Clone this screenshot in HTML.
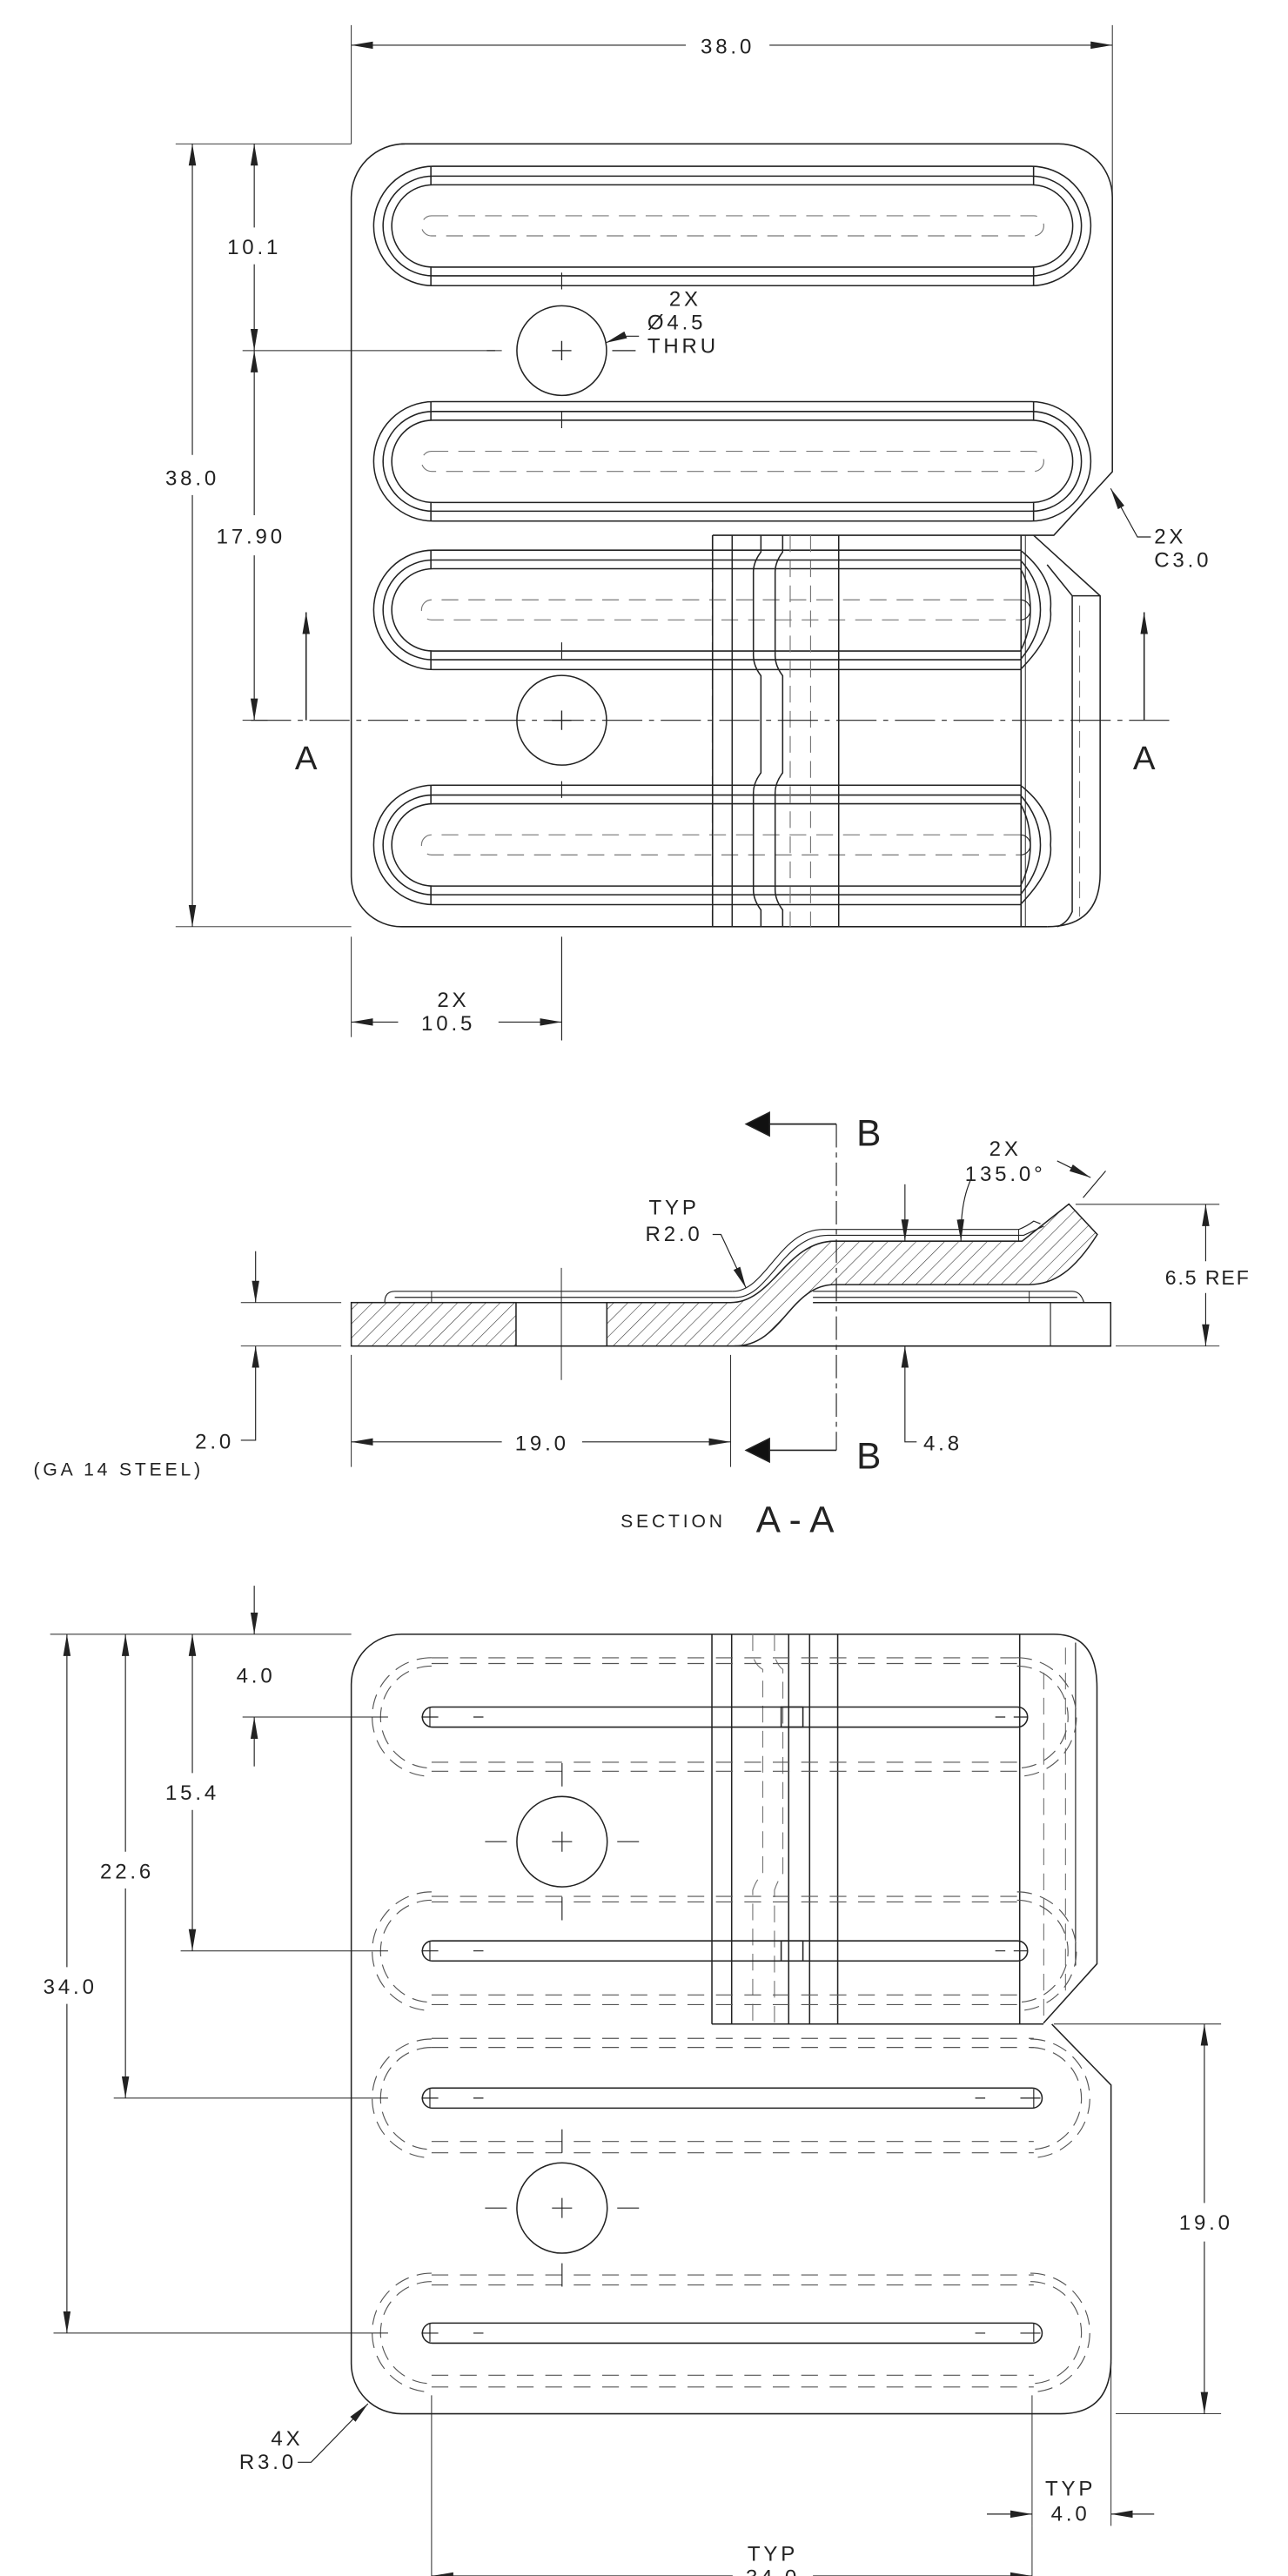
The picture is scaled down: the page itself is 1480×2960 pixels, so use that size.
<!DOCTYPE html>
<html><head><meta charset="utf-8"><style>
html,body{margin:0;padding:0;background:#fff}
svg{display:block}
text{font-family:"Liberation Sans",sans-serif;font-size:12.5px;fill:#222;letter-spacing:2px}
</style></head><body>
<svg width="1480" height="2960" viewBox="0 0 770 1540" xmlns="http://www.w3.org/2000/svg">
<defs>
<marker id="ar" markerUnits="userSpaceOnUse" markerWidth="14" markerHeight="8" refX="13" refY="3" orient="auto-start-reverse" viewBox="0 0 14 6"><path d="M0,0.8 L13,3 L0,5.2 Z" fill="#222"/></marker>
<pattern id="hatch" patternUnits="userSpaceOnUse" width="6" height="6" patternTransform="rotate(45)"><line x1="0" y1="0" x2="0" y2="6" stroke="#333" stroke-width="0.6"/></pattern>
</defs>
<g fill="none" stroke="#222" stroke-width="0.8">

<!-- ============ TOP VIEW ============ -->
<line x1="210" y1="15" x2="210" y2="86" stroke-width="0.5"/>
<line x1="665" y1="15" x2="665" y2="281" stroke-width="0.5"/>
<line x1="210" y1="27" x2="410" y2="27" marker-start="url(#ar)" stroke-width="0.6"/>
<line x1="460" y1="27" x2="665" y2="27" marker-end="url(#ar)" stroke-width="0.6"/>
<path d="M240,86 L633,86 A32,32 0 0 1 665,118 L665,282 L630,320 L426,320"/>
<path d="M426,320 L426,554 M665,118"/>
<path d="M210,118 A32,32 0 0 1 242,86 M210,118 L210,524 A30,30 0 0 0 240,554 L626,554"/>
<g>
 <rect x="223.4" y="99.4" width="428.7" height="71.4" rx="35.7"/>
 <rect x="229" y="105.3" width="417.5" height="59.6" rx="29.8"/>
 <rect x="234.2" y="110.5" width="407.1" height="49.2" rx="24.6"/>
 <line x1="257.6" y1="99.4" x2="257.6" y2="110.5"/><line x1="617.9" y1="99.4" x2="617.9" y2="110.5"/>
 <line x1="257.6" y1="159.7" x2="257.6" y2="170.8"/><line x1="617.9" y1="159.7" x2="617.9" y2="170.8"/>
 <rect x="252" y="129" width="372" height="12" rx="6" stroke="#777" stroke-dasharray="10 6" stroke-width="0.6"/>
 <rect x="223.4" y="240.1" width="428.7" height="71.4" rx="35.7"/>
 <rect x="229" y="246" width="417.5" height="59.6" rx="29.8"/>
 <rect x="234.2" y="251.2" width="407.1" height="49.2" rx="24.6"/>
 <line x1="257.6" y1="240.1" x2="257.6" y2="251.2"/><line x1="617.9" y1="240.1" x2="617.9" y2="251.2"/>
 <line x1="257.6" y1="300.4" x2="257.6" y2="311.5"/><line x1="617.9" y1="300.4" x2="617.9" y2="311.5"/>
 <rect x="252" y="269.8" width="372" height="12" rx="6" stroke="#777" stroke-dasharray="10 6" stroke-width="0.6"/>
 <path d="M610,328.9 L259.1,328.9 A35.7,35.7 0 0 0 259.1,400.3 L610,400.3 Q630,380 628,364.6 Q630,345 610,328.9"/>
 <path d="M610,334.8 L258.8,334.8 A29.8,29.8 0 0 0 258.8,394.4 L610,394.4 Q622,380 622,364.6 Q622,348 610,334.8"/>
 <path d="M610,340 L258.8,340 A24.6,24.6 0 0 0 258.8,389.2 L610,389.2 Q616,378 616,364.6 Q616,350 610,340"/>
 <line x1="257.6" y1="328.9" x2="257.6" y2="340"/><line x1="257.6" y1="389.2" x2="257.6" y2="400.3"/>
 <path d="M610,358.6 L258,358.6 A6,6 0 0 0 258,370.6 L610,370.6" stroke="#777" stroke-dasharray="10 6" stroke-width="0.6"/>
 <path d="M610,358.6 A6,6 0 0 1 610,370.6" stroke-width="0.6"/>
 <path d="M610,469.4 L259.1,469.4 A35.7,35.7 0 0 0 259.1,540.8 L610,540.8 Q630,520 628,505.1 Q630,485 610,469.4"/>
 <path d="M610,475.3 L258.8,475.3 A29.8,29.8 0 0 0 258.8,534.9 L610,534.9 Q622,520 622,505.1 Q622,489 610,475.3"/>
 <path d="M610,480.5 L258.8,480.5 A24.6,24.6 0 0 0 258.8,529.7 L610,529.7 Q616,518 616,505.1 Q616,491 610,480.5"/>
 <line x1="257.6" y1="469.4" x2="257.6" y2="480.5"/><line x1="257.6" y1="529.7" x2="257.6" y2="540.8"/>
 <path d="M610,499.1 L258,499.1 A6,6 0 0 0 258,511.1 L610,511.1" stroke="#777" stroke-dasharray="10 6" stroke-width="0.6"/>
 <path d="M610,499.1 A6,6 0 0 1 610,511.1" stroke-width="0.6"/>
</g>
<line x1="437.7" y1="320" x2="437.7" y2="554"/>
<path d="M454.9,320 L454.9,330 Q450.4,336 450.4,342 L450.4,392 Q450.4,398 454.9,404 L454.9,462 Q450.4,468 450.4,474 L450.4,532 Q450.4,538 454.9,544 L454.9,554"/>
<path d="M467.9,320 L467.9,330 Q463.4,336 463.4,342 L463.4,392 Q463.4,398 467.9,404 L467.9,462 Q463.4,468 463.4,474 L463.4,532 Q463.4,538 467.9,544 L467.9,554"/>
<line x1="472.4" y1="320" x2="472.4" y2="554" stroke="#777" stroke-dasharray="10 5" stroke-width="0.6"/>
<line x1="484.6" y1="320" x2="484.6" y2="554" stroke="#777" stroke-dasharray="10 5" stroke-width="0.6"/>
<line x1="501.4" y1="320" x2="501.4" y2="554"/>
<line x1="610.4" y1="320" x2="610.4" y2="554"/>
<line x1="425.8" y1="320" x2="425.8" y2="554" stroke-dasharray="12 4" stroke-width="0.5"/>
<path d="M617.9,320 L657.7,356.2 L657.7,521.8 Q657.7,554 626,554"/>
<path d="M626,337.6 L641,356.2 L657.7,356.2 M641,356.2 L641,545 Q638,552 632,554"/>
<line x1="645.4" y1="362" x2="645.4" y2="548" stroke="#777" stroke-dasharray="10 5" stroke-width="0.6"/>
<path d="M613,320 L613,554" stroke-width="0.5"/>
<circle cx="335.8" cy="209.6" r="26.8"/>
<circle cx="335.8" cy="430.6" r="26.8"/>
<path d="M330,209.6 h11.6 M335.8,203.8 v11.6 M330,430.6 h11.6 M335.8,424.8 v11.6" stroke-width="0.7"/>
<path d="M335.8,163 v10 M335.8,246 v10 M335.8,384 v10 M335.8,467 v10 M335.8,560 v62" stroke-width="0.6"/>
<path d="M291,209.6 h5 M366,209.6 h14" stroke-width="0.6"/>
<line x1="150" y1="430.6" x2="700" y2="430.6" stroke-dasharray="24 4 3 4" stroke-width="0.6"/>
<line x1="183" y1="430.6" x2="183" y2="366" marker-end="url(#ar)" stroke-width="0.8"/>
<line x1="684" y1="430.6" x2="684" y2="366" marker-end="url(#ar)" stroke-width="0.8"/>
<line x1="105" y1="86" x2="210" y2="86" stroke-width="0.5"/>
<line x1="105" y1="554" x2="210" y2="554" stroke-width="0.5"/>
<line x1="145" y1="209.6" x2="300" y2="209.6" stroke-width="0.5"/>
<line x1="145" y1="430.6" x2="160" y2="430.6" stroke-width="0.5"/>
<line x1="115" y1="86" x2="115" y2="272" marker-start="url(#ar)" stroke-width="0.6"/>
<line x1="115" y1="296" x2="115" y2="554" marker-end="url(#ar)" stroke-width="0.6"/>
<line x1="152" y1="86" x2="152" y2="136" marker-start="url(#ar)" stroke-width="0.6"/>
<line x1="152" y1="158" x2="152" y2="209.6" marker-end="url(#ar)" stroke-width="0.6"/>
<line x1="152" y1="209.6" x2="152" y2="308" marker-start="url(#ar)" stroke-width="0.6"/>
<line x1="152" y1="332" x2="152" y2="430.6" marker-end="url(#ar)" stroke-width="0.6"/>
<line x1="210" y1="560" x2="210" y2="620" stroke-width="0.5"/>
<line x1="210" y1="611" x2="238" y2="611" marker-start="url(#ar)" stroke-width="0.6"/>
<line x1="298" y1="611" x2="335.8" y2="611" marker-end="url(#ar)" stroke-width="0.6"/>
<path d="M382,201 L372,201 L362,205" marker-end="url(#ar)" stroke-width="0.6"/>
<path d="M688,321 L680,321 L664,292" marker-end="url(#ar)" stroke-width="0.6"/>

<!-- ============ SECTION A-A ============ -->
<rect x="210" y="778.7" width="98.5" height="26" fill="url(#hatch)"/>
<path d="M362.8,778.7 L436.8,778.7 C462,778.7 470,742 499,742 L611,742 L639,719.8 L656,738 C642,760 630,768 615,768 L499,768 C472,768 468,804.7 439,804.7 L362.8,804.7 Z" fill="url(#hatch)"/>
<path d="M308.5,778.7 L362.8,778.7 M308.5,804.7 L362.8,804.7"/>
<path d="M486,778.7 L664,778.7 L664,804.7 L439,804.7"/>
<line x1="628" y1="778.7" x2="628" y2="804.7" stroke-width="0.6"/>
<path d="M230,778.7 Q230,772 236,772 L438,772 M236,775.6 L440,775.6" stroke-width="0.6"/>
<line x1="258" y1="772" x2="258" y2="778.7" stroke-width="0.5"/>
<path d="M486,772 L641,772 Q646,772 648,778.7 M486,775.6 L644,775.6" stroke-width="0.6"/>
<line x1="615.3" y1="772" x2="615.3" y2="778.7" stroke-width="0.5"/>
<path d="M438,772 C458,772 466,735 492,735 L609,735 Q614,733 618,730 L622,731.6 M440,775.6 C460,775.6 468,738.5 495,738.5 L612,738.5 L624,733" stroke-width="0.6"/>
<line x1="609" y1="735" x2="609" y2="742" stroke-width="0.5"/>
<line x1="335.6" y1="758" x2="335.6" y2="825" stroke-width="0.5"/>
<line x1="500" y1="672" x2="500" y2="867" stroke-dasharray="14 3 3 3" stroke-width="0.6"/>
<line x1="500" y1="672" x2="458" y2="672" stroke-width="0.9"/>
<path d="M446,672 L460,665 L460,679 Z" fill="#111"/>
<line x1="500" y1="867" x2="458" y2="867" stroke-width="0.9"/>
<path d="M446,867 L460,860 L460,874 Z" fill="#111"/>
<line x1="144" y1="778.7" x2="204" y2="778.7" stroke-width="0.5"/>
<line x1="144" y1="804.7" x2="204" y2="804.7" stroke-width="0.5"/>
<line x1="152.8" y1="748" x2="152.8" y2="778.7" marker-end="url(#ar)" stroke-width="0.6"/>
<path d="M144,861 L152.8,861 L152.8,804.7" marker-end="url(#ar)" stroke-width="0.6"/>
<line x1="210" y1="810" x2="210" y2="877" stroke-width="0.5"/>
<line x1="436.8" y1="810" x2="436.8" y2="877" stroke-width="0.5"/>
<line x1="210" y1="862" x2="300" y2="862" marker-start="url(#ar)" stroke-width="0.6"/>
<line x1="348" y1="862" x2="436.8" y2="862" marker-end="url(#ar)" stroke-width="0.6"/>
<line x1="541" y1="708" x2="541" y2="742" marker-end="url(#ar)" stroke-width="0.6"/>
<path d="M548,862 L541,862 L541,804.7" marker-end="url(#ar)" stroke-width="0.6"/>
<path d="M580,706 Q574,720 574.5,742" marker-end="url(#ar)" stroke-width="0.6"/>
<path d="M632,694 L652,704" marker-end="url(#ar)" stroke-width="0.6"/>
<line x1="647.5" y1="716" x2="661" y2="700" stroke-width="0.6"/>
<line x1="643" y1="720" x2="729" y2="720" stroke-width="0.5"/>
<line x1="667" y1="804.7" x2="729" y2="804.7" stroke-width="0.5"/>
<line x1="720.8" y1="720" x2="720.8" y2="754" marker-start="url(#ar)" stroke-width="0.6"/>
<line x1="720.8" y1="773" x2="720.8" y2="804.7" marker-end="url(#ar)" stroke-width="0.6"/>
<path d="M426,738 L431,738 L446,770" marker-end="url(#ar)" stroke-width="0.6"/>

<!-- ============ BOTTOM VIEW ============ -->
<path d="M240,977 L630,977 Q655.8,977 655.8,1009 L655.8,1174 L623.8,1209.5 M628.8,1210.1 L664.2,1246.5 L664.2,1410 Q664.2,1443 634,1443 L240,1443 A30,30 0 0 1 210,1413 L210,1007 A30,30 0 0 1 240,977"/>
<line x1="425.6" y1="1210" x2="623.8" y2="1210"/>
<g>
<line x1="425.6" y1="977" x2="425.6" y2="1210"/>
<line x1="437.4" y1="977" x2="437.4" y2="1210"/>
<line x1="471.5" y1="977" x2="471.5" y2="1210"/>
<line x1="484" y1="977" x2="484" y2="1210"/>
<line x1="500.8" y1="977" x2="500.8" y2="1210"/>
<line x1="609.6" y1="977" x2="609.6" y2="1210"/>
<line x1="643" y1="982" x2="643" y2="1175" stroke-width="0.6"/>
</g>
<g stroke="#777" stroke-dasharray="10 5" stroke-width="0.6">
<path d="M450,977 L450,990 Q452,996 456,998 L456,1120 Q452,1124 450,1130 L450,1210"/>
<path d="M463,977 L463,990 Q465,996 468,998 L468,1120 Q465,1124 463,1130 L463,1210"/>
<line x1="624" y1="1000" x2="624" y2="1205"/>
<line x1="637" y1="985" x2="637" y2="1195"/>
</g>
<rect x="252.5" y="1020.5" width="361.8" height="12" rx="6"/>
<rect x="252.5" y="1160.3" width="361.8" height="12" rx="6"/>
<rect x="252.5" y="1248.3" width="370.5" height="12" rx="6"/>
<rect x="252.5" y="1388.8" width="370.5" height="12" rx="6"/>
<rect x="467" y="1020.5" width="13" height="12"/>
<rect x="467" y="1160.3" width="13" height="12"/>
<g stroke-width="0.6">
<path d="M252,1026.5 h10 M257,1021 v11 M283,1026.5 h6 M595,1026.5 h6 M606,1026.5 h8"/>
<path d="M252,1166.3 h10 M257,1161 v11 M283,1166.3 h6 M595,1166.3 h6 M606,1166.3 h8"/>
<path d="M252,1254.3 h10 M257,1249 v11 M283,1254.3 h6 M583,1254.3 h6 M610,1254.3 h12 M618,1249 v11"/>
<path d="M252,1394.8 h10 M257,1389 v11 M283,1394.8 h6 M583,1394.8 h6 M610,1394.8 h12 M618,1389 v11"/>
</g>
<g stroke="#555" stroke-width="0.6" stroke-dasharray="10 7">
<path d="M258,991.1 H610 M258,994.5 H610 M258,1053.5 H610 M258,1058.9 H610"/>
<path d="M258,1133.7 H610 M258,1137 H610 M258,1192.6 H610 M258,1198.4 H610"/>
<path d="M258,1218.6 H618 M258,1224 H618 M258,1280.2 H618 M258,1287 H618"/>
<path d="M258,1360 H618 M258,1366 H618 M258,1420 H618 M258,1427 H618"/>
</g>
<g stroke="#555" stroke-width="0.6" stroke-dasharray="9 5">
<path d="M258,996 A30.5,30.5 0 0 0 258,1057 M258,991 A35.5,35.5 0 0 0 258,1062"/>
<path d="M258,1136 A30.5,30.5 0 0 0 258,1197 M258,1131 A35.5,35.5 0 0 0 258,1202"/>
<path d="M258,1224 A30.5,30.5 0 0 0 258,1285 M258,1219 A35.5,35.5 0 0 0 258,1290"/>
<path d="M258,1364 A30.5,30.5 0 0 0 258,1425 M258,1359 A35.5,35.5 0 0 0 258,1430"/>
<path d="M608,996 A30.5,30.5 0 0 1 608,1057 M608,991 A35.5,35.5 0 0 1 608,1062"/>
<path d="M608,1136 A30.5,30.5 0 0 1 608,1197 M608,1131 A35.5,35.5 0 0 1 608,1202"/>
<path d="M616,1224 A30.5,30.5 0 0 1 616,1285 M616,1219 A35.5,35.5 0 0 1 616,1290"/>
<path d="M616,1364 A30.5,30.5 0 0 1 616,1425 M616,1359 A35.5,35.5 0 0 1 616,1430"/>
</g>
<circle cx="336" cy="1101" r="27"/>
<circle cx="336" cy="1320" r="27"/>
<path d="M330,1101 h12 M336,1095 v12 M290,1101 h13 M369,1101 h13 M336,1054 v14 M336,1134 v14" stroke-width="0.6"/>
<path d="M330,1320 h12 M336,1314 v12 M290,1320 h13 M369,1320 h13 M336,1273 v14 M336,1353 v14" stroke-width="0.6"/>
<g stroke-width="0.5">
<line x1="30" y1="977" x2="210" y2="977"/>
<line x1="145" y1="1026.5" x2="232" y2="1026.5"/>
<line x1="108" y1="1166.3" x2="232" y2="1166.3"/>
<line x1="68" y1="1254.3" x2="232" y2="1254.3"/>
<line x1="32" y1="1394.8" x2="232" y2="1394.8"/>
</g>
<g stroke-width="0.6">
<line x1="40" y1="977" x2="40" y2="1176" marker-start="url(#ar)"/>
<line x1="40" y1="1198" x2="40" y2="1394.8" marker-end="url(#ar)"/>
<line x1="75" y1="977" x2="75" y2="1107" marker-start="url(#ar)"/>
<line x1="75" y1="1129" x2="75" y2="1254.3" marker-end="url(#ar)"/>
<line x1="115" y1="977" x2="115" y2="1060" marker-start="url(#ar)"/>
<line x1="115" y1="1082" x2="115" y2="1166.3" marker-end="url(#ar)"/>
<line x1="152" y1="948" x2="152" y2="977" marker-end="url(#ar)"/>
<line x1="152" y1="1056" x2="152" y2="1026.5" marker-end="url(#ar)"/>
</g>
<g stroke-width="0.5">
<line x1="630" y1="1210" x2="730" y2="1210"/>
<line x1="667" y1="1443" x2="730" y2="1443"/>
<line x1="617" y1="1432" x2="617" y2="1510"/>
<line x1="664.2" y1="1412" x2="664.2" y2="1510"/>
<line x1="258" y1="1432" x2="258" y2="1548"/>
<line x1="617" y1="1510" x2="617" y2="1548"/>
</g>
<g stroke-width="0.6">
<line x1="720" y1="1210" x2="720" y2="1317" marker-start="url(#ar)"/>
<line x1="720" y1="1340" x2="720" y2="1443" marker-end="url(#ar)"/>
<line x1="590" y1="1503" x2="617" y2="1503" marker-end="url(#ar)"/>
<line x1="690" y1="1503" x2="664.2" y2="1503" marker-end="url(#ar)"/>
<line x1="258" y1="1540" x2="438" y2="1540" marker-start="url(#ar)"/>
<line x1="486" y1="1540" x2="617" y2="1540" marker-end="url(#ar)"/>
<path d="M178,1472 L186,1472 L220,1437" marker-end="url(#ar)"/>
</g>
</g>

<g>
<text x="435" y="32" text-anchor="middle">38.0</text>
<text x="115" y="290" text-anchor="middle" style="paint-order:stroke;stroke:#fff;stroke-width:6px">38.0</text>
<text x="152" y="152" text-anchor="middle">10.1</text>
<text x="150" y="325" text-anchor="middle">17.90</text>
<text x="271" y="602" text-anchor="middle">2X</text>
<text x="268" y="616" text-anchor="middle">10.5</text>
<text x="400" y="183">2X</text>
<text x="387" y="197">Ø4.5</text>
<text x="387" y="211">THRU</text>
<text x="690" y="325">2X</text>
<text x="690" y="339">C3.0</text>
<text x="183" y="460" text-anchor="middle" style="font-size:20px;letter-spacing:0">A</text>
<text x="684" y="460" text-anchor="middle" style="font-size:20px;letter-spacing:0">A</text>

<text x="512" y="685" style="font-size:22px;letter-spacing:0">B</text>
<text x="512" y="878" style="font-size:22px;letter-spacing:0">B</text>
<text x="601" y="691" text-anchor="middle">2X</text>
<text x="601" y="706" text-anchor="middle">135.0°</text>
<text x="403" y="726" text-anchor="middle">TYP</text>
<text x="403" y="742" text-anchor="middle">R2.0</text>
<text x="722" y="768" text-anchor="middle" style="paint-order:stroke;stroke:#fff;stroke-width:6px;letter-spacing:1px;font-size:12px">6.5 REF</text>
<text x="140" y="866" text-anchor="end">2.0</text>
<text x="20" y="882" style="font-size:11px">(GA 14 STEEL)</text>
<text x="324" y="867" text-anchor="middle">19.0</text>
<text x="552" y="867">4.8</text>
<text x="371" y="913" style="font-size:11px">SECTION</text>
<text x="452" y="916" style="font-size:22px;letter-spacing:5px">A-A</text>

<text x="153" y="1006" text-anchor="middle">4.0</text>
<text x="115" y="1076" text-anchor="middle">15.4</text>
<text x="76" y="1123" text-anchor="middle">22.6</text>
<text x="42" y="1192" text-anchor="middle">34.0</text>
<text x="721" y="1333" text-anchor="middle">19.0</text>
<text x="640" y="1492" text-anchor="middle">TYP</text>
<text x="640" y="1507" text-anchor="middle">4.0</text>
<text x="462" y="1531" text-anchor="middle">TYP</text>
<text x="462" y="1545" text-anchor="middle">34.0</text>
<text x="162" y="1462">4X</text>
<text x="143" y="1476">R3.0</text>
</g>
</svg>
</body></html>
